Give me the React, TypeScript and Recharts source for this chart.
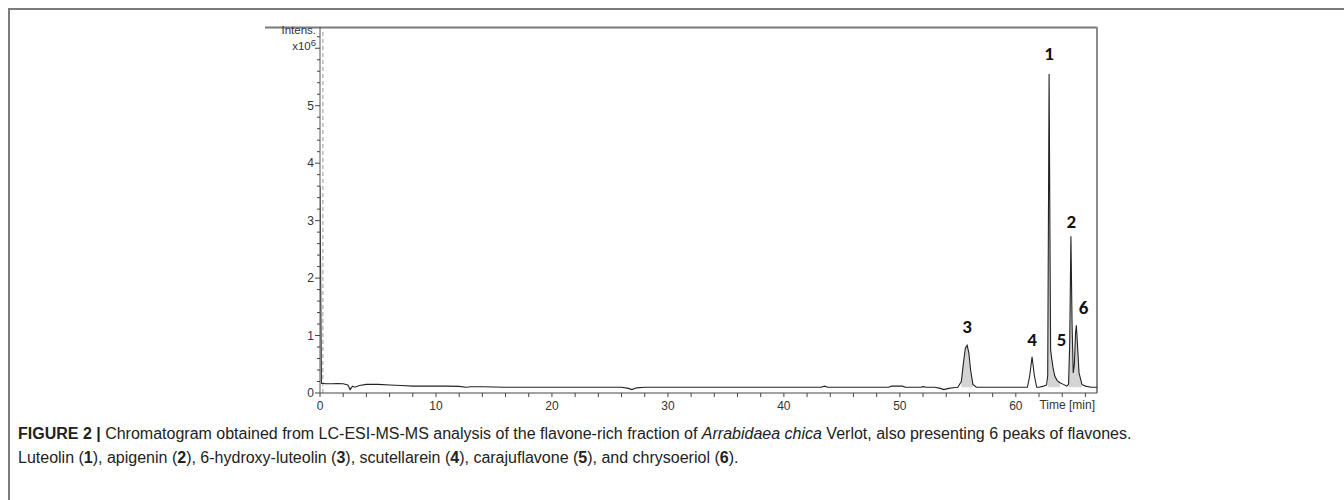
import { Area, ComposedChart, Line, ReferenceDot, ReferenceLine, XAxis, YAxis } from "recharts";

// retention time (min) and intensity (x10^6)
const retentionTime = [
  0, 0.12, 0.5, 1.0, 1.5, 2.0, 2.4, 2.6, 2.8, 3.0, 3.4, 4.0, 5.0, 6.0, 7.0, 8.0, 9.0, 10.0, 11.0, 12.0, 12.6, 13.0,
  14.0, 16.0, 18.0, 20.0, 22.0, 24.0, 26.0, 26.6, 26.9, 27.3, 28.0, 30.0, 33.0, 36.0, 40.0, 43.2, 43.5, 43.8, 46.0,
  49.0, 49.3, 50.2, 50.5, 51.8, 52.0, 52.3, 53.0, 53.5, 53.8, 54.2, 54.6, 55.0, 55.3, 55.5, 55.65, 55.8, 55.95, 56.1,
  56.3, 56.6, 57.5, 59.0, 60.5, 61.0, 61.2, 61.4, 61.6, 61.8, 62.0, 62.4, 62.65, 62.75, 62.8, 62.87, 62.94, 63.0,
  63.08, 63.2, 63.35, 63.55, 63.8, 64.1, 64.4, 64.55, 64.65, 64.75, 64.85, 64.95, 65.05, 65.15, 65.22, 65.3, 65.45,
  65.7, 66.0, 66.5, 67.0,
];
const intensity = [
  3.6, 0.17, 0.16, 0.16, 0.165, 0.16, 0.14, 0.06, 0.12, 0.1, 0.13, 0.15, 0.15, 0.14, 0.13, 0.12, 0.12, 0.12, 0.12,
  0.115, 0.1, 0.11, 0.11, 0.1, 0.1, 0.1, 0.1, 0.1, 0.1, 0.08, 0.06, 0.09, 0.1, 0.1, 0.1, 0.1, 0.1, 0.1, 0.12, 0.1, 0.1,
  0.1, 0.12, 0.12, 0.1, 0.1, 0.11, 0.1, 0.1, 0.08, 0.06, 0.08, 0.09, 0.1, 0.2, 0.55, 0.78, 0.83, 0.7, 0.4,
  0.15, 0.1, 0.1, 0.1, 0.1, 0.1, 0.3, 0.63, 0.3, 0.1, 0.1, 0.12, 0.14, 0.3, 2.5, 5.55, 2.8, 0.75,
  0.62, 0.45, 0.3, 0.22, 0.18, 0.15, 0.12, 0.15, 0.9, 2.73, 1.2, 0.35, 0.5, 1.05, 1.18, 0.9, 0.35,
  0.15, 0.12, 0.1, 0.1,
];

// integrated (shaded) windows: [start, end, baseline]
const shadedWindows = [
  [55.1, 56.5, 0.1],
  [62.7, 64.0, 0.1],
  [64.5, 65.7, 0.1],
];

const peakMarks = [
  { id: "1", time: 62.87, level: 5.92 },
  { id: "2", time: 64.78, level: 2.99 },
  { id: "3", time: 55.8, level: 1.16 },
  { id: "4", time: 61.4, level: 0.94 },
  { id: "5", time: 63.95, level: 0.94 },
  { id: "6", time: 65.85, level: 1.49 },
];

const xTicks = [0, 2, 4, 6, 8, 10, 12, 14, 16, 18, 20, 22, 24, 26, 28, 30, 32, 34, 36, 38, 40, 42, 44, 46, 48, 50, 52, 54, 56, 58, 60, 62, 64, 66];
const xLabels = [0, 10, 20, 30, 40, 50, 60];
const yTicks = [0, 0.2, 0.4, 0.6, 0.8, 1, 1.2, 1.4, 1.6, 1.8, 2, 2.2, 2.4, 2.6, 2.8, 3, 3.2, 3.4, 3.6, 3.8, 4, 4.2, 4.4, 4.6, 4.8, 5, 5.2, 5.4, 5.6, 5.8, 6, 6.2];
const yLabels = [0, 1, 2, 3, 4, 5];

const X_MAX = 67;
const Y_MAX = 6.37;

const data = retentionTime.map((t, i) => {
  const win = shadedWindows.find(([a, b]) => t >= a && t <= b);
  return { t, v: intensity[i], shade: win ? [win[2], Math.max(intensity[i], win[2])] : null };
});

const axisFont = "'Liberation Sans', Arial, sans-serif";

const YTick = ({ x, y, payload }: any) => {
  const v = payload.value;
  const major = Math.abs(v - Math.round(v)) < 1e-6;
  const labelled = major && yLabels.includes(Math.round(v));
  return (
    <g>
      <line x1={x - (major ? 5 : 3)} x2={x} y1={y} y2={y} stroke="#444" />
      {labelled && (
        <text x={x - 6} y={y + 4} textAnchor="end" fontSize={12} fill="#333" fontFamily={axisFont}>
          {Math.round(v)}
        </text>
      )}
    </g>
  );
};

const XTick = ({ x, y, payload }: any) => {
  const v = payload.value;
  return (
    <g>
      <line x1={x} x2={x} y1={y} y2={y + 4} stroke="#444" />
      {xLabels.includes(v) && (
        <text x={x} y={y + 17} textAnchor="middle" fontSize={12} fill="#333" fontFamily={axisFont}>
          {v}
        </text>
      )}
    </g>
  );
};

const PeakLabel = ({ viewBox, value }: any) => (
  <text
    x={viewBox.cx ?? viewBox.x}
    y={(viewBox.cy ?? viewBox.y) + 7}
    textAnchor="middle"
    fontSize={19}
    fontWeight="bold"
    fill="#111"
    fontFamily="Carlito, 'Open Sans', sans-serif"
  >
    {value}
  </text>
);

export default function App() {
  return (
    <div style={{ position: "absolute", left: 0, top: 0, width: 1344, height: 500, background: "#fff", overflow: "hidden" }}>
      <svg width={1344} height={500} style={{ position: "absolute", left: 0, top: 0 }}>
        <line x1={8} x2={1344} y1={9} y2={9} stroke="#7c7c7c" strokeWidth={2} />
        <line x1={9} x2={9} y1={8} y2={500} stroke="#7c7c7c" strokeWidth={2} />
        <line x1={265} x2={1097} y1={27.5} y2={27.5} stroke="#7a7a7a" strokeWidth={2} />
        <text x={316} y={34} textAnchor="end" fontSize={11.5} fill="#333" fontFamily={axisFont}>
          Intens.
        </text>
        <text x={316} y={50} textAnchor="end" fontSize={11.5} fill="#333" fontFamily={axisFont}>
          x10<tspan dy={-4} fontSize={9.5}>6</tspan>
        </text>
        <text x={1095} y={409} textAnchor="end" fontSize={12} fill="#333" fontFamily={axisFont}>
          Time [min]
        </text>
      </svg>
      <div style={{ position: "absolute", left: 0, top: 0 }}>
        <ComposedChart width={1344} height={500} data={data} margin={{ top: 27, right: 247, bottom: 77, left: 280 }}>
          <XAxis
            dataKey="t"
            type="number"
            domain={[0, X_MAX]}
            ticks={xTicks}
            interval={0}
            tick={<XTick />}
            tickSize={0}
            tickMargin={0}
            height={30}
            stroke="#444"
            allowDataOverflow
          />
          <YAxis
            type="number"
            domain={[0, Y_MAX]}
            ticks={yTicks}
            interval={0}
            tick={<YTick />}
            tickSize={0}
            tickMargin={0}
            width={40}
            stroke="#555"
            allowDataOverflow
          />
          <ReferenceLine x={0.25} stroke="#9a9a9a" strokeDasharray="4 3" />
          <ReferenceLine x={X_MAX} stroke="#8a8a8a" strokeWidth={2} />
          <Area
            dataKey="shade"
            type="linear"
            stroke="none"
            fill="#d4d4d4"
            fillOpacity={1}
            connectNulls={false}
            isAnimationActive={false}
          />
          <Line dataKey="v" type="linear" stroke="#222" strokeWidth={1.1} dot={false} isAnimationActive={false} />
          {peakMarks.map((p) => (
            <ReferenceDot key={p.id} x={p.time} y={p.level} r={0} fill="none" stroke="none" label={<PeakLabel value={p.id} />} />
          ))}
        </ComposedChart>
      </div>
      <div
        style={{
          position: "absolute",
          left: 18,
          top: 422,
          fontFamily: axisFont,
          fontSize: 16,
          lineHeight: "24px",
          color: "#222",
          whiteSpace: "nowrap",
        }}
      >
        <div>
          <b>FIGURE 2 |</b> Chromatogram obtained from LC-ESI-MS-MS analysis of the flavone-rich fraction of <i>Arrabidaea chica</i> Verlot, also presenting 6 peaks of flavones.
        </div>
        <div>
          Luteolin (<b>1</b>), apigenin (<b>2</b>), 6-hydroxy-luteolin (<b>3</b>), scutellarein (<b>4</b>), carajuflavone (<b>5</b>), and chrysoeriol (<b>6</b>).
        </div>
      </div>
    </div>
  );
}
